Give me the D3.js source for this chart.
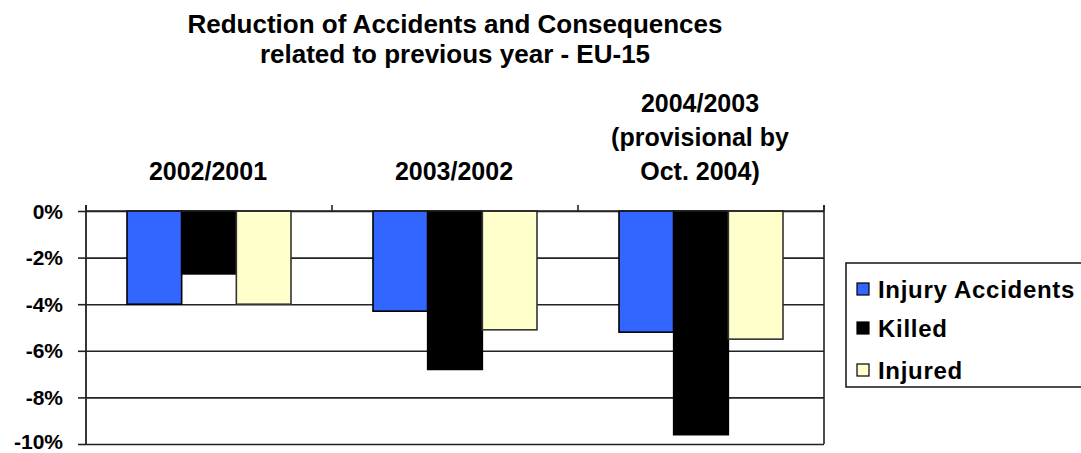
<!DOCTYPE html>
<html>
<head>
<meta charset="utf-8">
<script src="https://cdn.jsdelivr.net/npm/d3@7"></script>
<style>
  html, body { margin: 0; padding: 0; background: #fff; }
  svg { display: block; }
  text { font-family: "Liberation Sans", Arial, sans-serif; font-weight: bold; fill: #000; }
</style>
</head>
<body>
<svg id="chart" width="1081" height="453"></svg>
<script>
// ---------- data ----------
const titleLines = ["Reduction of Accidents and Consequences", "related to previous year - EU-15"];
const categories = ["2002/2001", "2003/2002", "2004/2003 (provisional by Oct. 2004)"];
const categoryLabelLines = [["2002/2001"], ["2003/2002"], ["2004/2003", "(provisional by", "Oct. 2004)"]];
const seriesNames = ["Injury Accidents", "Killed", "Injured"];
const injuryAccidents = [-4.0, -4.3, -5.2];
const killed = [-2.7, -6.8, -9.6];
const injured = [-4.0, -5.1, -5.5];
const yTicks = [0, -2, -4, -6, -8, -10];

// ---------- layout ----------
const svg = d3.select("#chart");
const plot = { left: 86, right: 824, top: 211, bottom: 444 };
const colors = ["#3366FF", "#000000", "#FFFFCC"];
const strokes = ["#000000", "#000000", "#333333"];

const seriesValues = [injuryAccidents, killed, injured];
const rows = categories.map((c, i) => ({ cat: c, vals: seriesNames.map((s, j) => ({ s, j, v: seriesValues[j][i] })) }));

const x0 = d3.scaleBand().domain(categories).range([plot.left, plot.right]).paddingInner(0).paddingOuter(0);
const x1 = d3.scaleBand().domain(seriesNames).range([0, x0.bandwidth()]).paddingInner(0).paddingOuter(0.75);
const y = d3.scaleLinear().domain([-10, 0]).range([plot.bottom, plot.top]);

// gridlines
svg.append("g")
  .attr("transform", `translate(${plot.left},0)`)
  .call(d3.axisLeft(y).tickValues(yTicks).tickSize(-(plot.right - plot.left)).tickFormat(""))
  .call(g => g.select(".domain").remove())
  .call(g => g.selectAll("line").attr("stroke", "#222").attr("stroke-width", 1.6));

// y axis with tick labels
svg.append("g")
  .attr("transform", `translate(${plot.left},0)`)
  .call(d3.axisLeft(y).tickValues(yTicks).tickSize(8).tickPadding(15).tickSizeOuter(0).tickFormat(d => d + "%"))
  .call(g => g.select(".domain").remove())
  .call(g => g.selectAll("line").attr("stroke", "#222").attr("stroke-width", 1.6))
  .call(g => g.selectAll("text").style("font-size", "21px").attr("dy", d => d === -10 ? "0.2em" : "0.34em"));

// bars
const groups = svg.append("g").selectAll("g").data(rows).join("g")
  .attr("transform", d => `translate(${x0(d.cat)},0)`);
groups.selectAll("rect").data(d => d.vals).join("rect")
  .attr("x", d => x1(d.s))
  .attr("y", d => y(Math.max(0, d.v)))
  .attr("width", x1.bandwidth())
  .attr("height", d => Math.abs(y(d.v) - y(0)))
  .attr("fill", d => colors[d.j])
  .attr("stroke", d => strokes[d.j])
  .attr("stroke-width", 1.6);

// category axis along 0 line, ticks pointing up, labels above
const xAxisG = svg.append("g").attr("transform", `translate(0,${y(0)})`);
xAxisG.append("line").attr("x1", plot.left).attr("x2", plot.right).attr("stroke", "#222").attr("stroke-width", 1.6);
const bounds = categories.map(c => x0(c)).concat([plot.right]);
xAxisG.selectAll("line.tick").data(bounds).join("line").attr("class", "tick")
  .attr("x1", d => d).attr("x2", d => d).attr("y1", 0).attr("y2", -6)
  .attr("stroke", "#222").attr("stroke-width", 1.6);

// left axis line and right border
svg.append("line").attr("x1", plot.left).attr("x2", plot.left).attr("y1", plot.top - 6).attr("y2", plot.bottom)
  .attr("stroke", "#222").attr("stroke-width", 1.8);
svg.append("line").attr("x1", plot.right).attr("x2", plot.right).attr("y1", plot.top - 6).attr("y2", plot.bottom)
  .attr("stroke", "#222").attr("stroke-width", 1.6);

// category labels
const catFont = 25, catLine = 34, catBase = 180;
categoryLabelLines.forEach((lines, i) => {
  const cx = x0(categories[i]) + x0.bandwidth() / 2 - 1;
  lines.forEach((ln, k) => {
    svg.append("text").attr("x", cx).attr("y", catBase - (lines.length - 1 - k) * catLine)
      .attr("text-anchor", "middle").style("font-size", catFont + "px").text(ln);
  });
});

// title
titleLines.forEach((t, i) => {
  svg.append("text").attr("x", 455).attr("y", 33 + i * 30)
    .attr("text-anchor", "middle").style("font-size", "26px").text(t);
});

// legend
const lg = svg.append("g");
lg.append("rect").attr("x", 846).attr("y", 263).attr("width", 260).attr("height", 124)
  .attr("fill", "#fff").attr("stroke", "#222").attr("stroke-width", 1.6);
const legendRowY = [289, 328, 370];
seriesNames.forEach((s, j) => {
  lg.append("rect").attr("x", 857).attr("y", legendRowY[j] - 6).attr("width", 12).attr("height", 12)
    .attr("fill", colors[j]).attr("stroke", "#000").attr("stroke-width", 1.2);
  lg.append("text").attr("x", 878).attr("y", legendRowY[j] + 8.5)
    .style("font-size", "24px").style("letter-spacing", "0.7px").text(s);
});
</script>
</body>
</html>
